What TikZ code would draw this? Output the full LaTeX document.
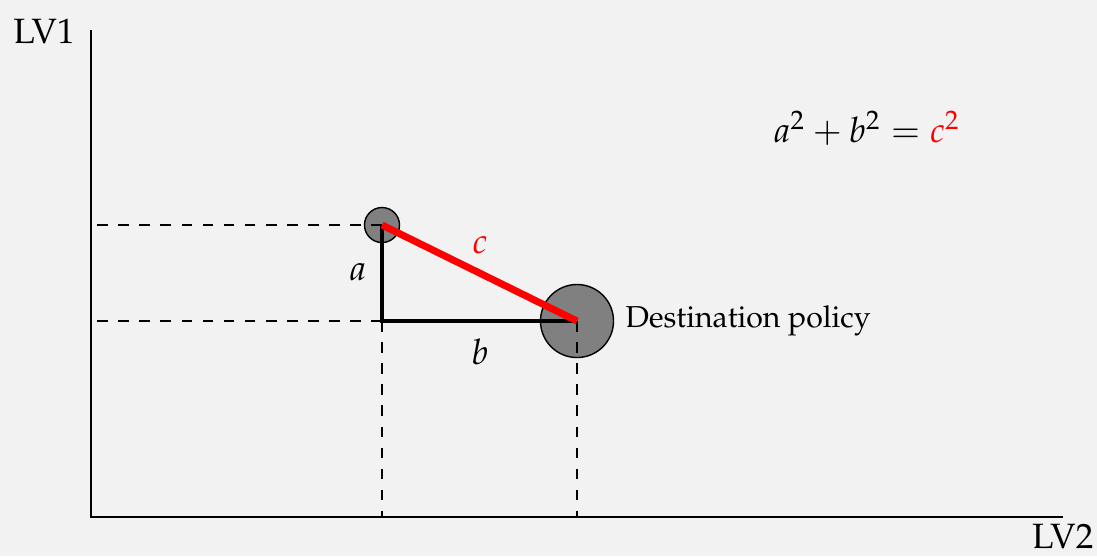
\documentclass[tikz,border=0pt]{standalone}
\usepackage[T1]{fontenc}
\usepackage{mathpazo}
\definecolor{bg}{HTML}{F2F2F2}
\begin{document}
\begin{tikzpicture}[x=0.01cm,y=-0.01cm,
  point/.style={circle,draw=black,fill=gray,inner sep=0pt,line width=0.4pt},
  axisline/.style={line width=0.5pt},
  guide/.style={dashed,line width=0.4pt},
  leg/.style={line width=0.9pt},
  hyp/.style={red,line width=2pt},
  lbl/.style={inner sep=0pt}]
\fill[bg] (0,0) rectangle (1097,556);
\useasboundingbox (0,0) rectangle (1097,556);
\coordinate (O) at (91,517);
\coordinate (ytop) at (91,30);
\coordinate (xend) at (1063,517);
\draw[axisline] (ytop) -- (O) -- (xend);
\node[point,minimum size=0.35cm] (p1) at (382,225) {};
\node[point,minimum size=0.73cm] (p2) at (577,321) {};
\coordinate (corner) at (p1.center |- p2.center);
\draw[guide] (p1.center) -- (p1.center -| O);
\draw[guide] (corner) -- (corner -| O);
\draw[guide] (corner) -- (corner |- O);
\draw[guide] (p2.center) -- (p2.center |- O);
\draw[leg] (p1.center) -- (corner) -- (p2.center);
\draw[hyp] (p1.center) -- (p2.center);
\node[lbl] (la) at (358,272) {$a$};
\node[lbl] (lb) at (480,352) {$b$};
\node[lbl,text=red] (lc) at (480,245) {$c$};
\node[lbl,anchor=base west,font=\fontsize{8.6}{10}\selectfont] (dest) at (625,327) {Destination policy};
\node[lbl,anchor=base] (eq) at (867,142) {$a^2+b^2=\textcolor{red}{c^2}$};
\node[lbl,anchor=base] (lv1) at (44,43) {LV1};
\node[lbl,anchor=base east] (lv2) at (1094,548) {LV2};
\end{tikzpicture}
\end{document}
